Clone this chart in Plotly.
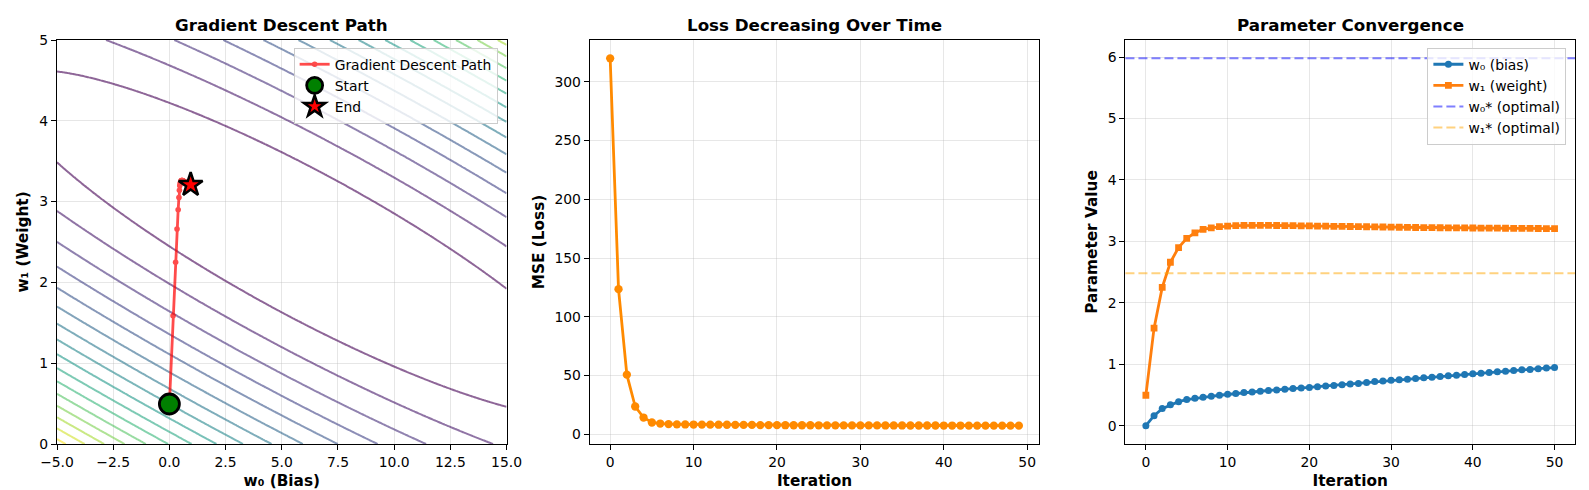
import numpy as np
import plotly.graph_objects as go

# ---------------- data ----------------
ITER_PARAMS = list(range(51))
W0_HIST = [0.0, 0.163, 0.277, 0.34, 0.39, 0.425, 0.446, 0.462, 0.478, 0.495,
           0.51, 0.525, 0.538, 0.549, 0.56, 0.572, 0.58, 0.592, 0.603, 0.614,
           0.622, 0.634, 0.645, 0.654, 0.664, 0.677, 0.687, 0.704, 0.718, 0.726,
           0.738, 0.749, 0.757, 0.768, 0.78, 0.788, 0.802, 0.813, 0.821, 0.832,
           0.843, 0.851, 0.867, 0.877, 0.884, 0.897, 0.909, 0.916, 0.928, 0.938,
           0.946]
W1_HIST = [0.495, 1.587, 2.25, 2.66, 2.90, 3.05, 3.14, 3.195, 3.22, 3.24,
           3.248, 3.256, 3.26, 3.261, 3.261, 3.26, 3.259, 3.258, 3.256, 3.254,
           3.252, 3.25, 3.248, 3.246, 3.244, 3.242, 3.24, 3.238, 3.236, 3.234,
           3.232, 3.23, 3.228, 3.226, 3.225, 3.224, 3.222, 3.221, 3.22, 3.219,
           3.218, 3.217, 3.216, 3.215, 3.214, 3.213, 3.212, 3.211, 3.21, 3.209,
           3.208]

ITER_LOSS = list(range(50))
LOSS_HIST = [320.0, 123.5, 50.7, 23.6, 14.2, 10.0, 9.1, 8.6, 8.4, 8.3,
             8.25, 8.2, 8.15, 8.1, 8.05, 8.0, 7.95, 7.9, 7.8, 7.75,
             7.7, 7.68, 7.66, 7.64, 7.62, 7.6, 7.58, 7.56, 7.54, 7.52,
             7.5, 7.49, 7.48, 7.47, 7.46, 7.45, 7.44, 7.43, 7.42, 7.41,
             7.4, 7.39, 7.38, 7.37, 7.36, 7.35, 7.34, 7.33, 7.32, 7.31]

W0_OPT = 5.98
W1_OPT = 2.48

# quadratic MSE surface: L = L_MIN + d0^2 + 2*X_MEAN*d0*d1 + X_SQ_MEAN*d1^2
X_MEAN = 5.5
X_SQ_MEAN = 38.5
L_MIN = 2.0
CONTOUR_START = 40
CONTOUR_STEP = 40
CONTOUR_END = 660

W0_RANGE = [-5, 15]
W1_RANGE = [0, 5]

FONT = "DejaVu Sans"

# ---------------- loss surface ----------------
w0g = np.linspace(W0_RANGE[0], W0_RANGE[1], 241)
w1g = np.linspace(W1_RANGE[0], W1_RANGE[1], 201)
G0, G1 = np.meshgrid(w0g, w1g)
D0 = G0 - W0_OPT
D1 = G1 - W1_OPT
Z = L_MIN + D0 ** 2 + 2 * X_MEAN * D0 * D1 + X_SQ_MEAN * D1 ** 2


def pad_range(vals, frac=0.05):
    lo, hi = min(vals), max(vals)
    p = (hi - lo) * frac
    return [lo - p, hi + p]


fig = go.Figure()

# ---- panel 1 ----
fig.add_trace(go.Contour(
    x=w0g, y=w1g, z=Z,
    contours=dict(start=CONTOUR_START, end=CONTOUR_END, size=CONTOUR_STEP,
                  coloring="lines", showlabels=False),
    colorscale="Viridis", zauto=False, zmin=CONTOUR_START, zmax=CONTOUR_END,
    line=dict(width=2), opacity=0.6, showscale=False, showlegend=False,
    hoverinfo="skip", xaxis="x", yaxis="y"))

fig.add_trace(go.Scatter(
    x=W0_HIST, y=W1_HIST, mode="lines+markers", name="Gradient Descent Path",
    line=dict(color="red", width=2.8), marker=dict(color="red", size=5.6),
    opacity=0.7, xaxis="x", yaxis="y", legend="legend"))

fig.add_trace(go.Scatter(
    x=[W0_HIST[0]], y=[W1_HIST[0]], mode="markers", name="Start",
    marker=dict(color="green", size=20, line=dict(color="black", width=2.8)),
    xaxis="x", yaxis="y", legend="legend"))

fig.add_trace(go.Scatter(
    x=[W0_HIST[-1]], y=[W1_HIST[-1]], mode="markers", name="End",
    marker=dict(color="red", size=18, symbol="star",
                line=dict(color="black", width=2.5)),
    xaxis="x", yaxis="y", legend="legend"))

# ---- panel 2 ----
fig.add_trace(go.Scatter(
    x=ITER_LOSS, y=LOSS_HIST, mode="lines+markers", name="MSE",
    line=dict(color="#ff8a00", width=2.8), marker=dict(color="#ff8a00", size=8.3),
    showlegend=False, xaxis="x2", yaxis="y2"))

# ---- panel 3 ----
fig.add_trace(go.Scatter(
    x=ITER_PARAMS, y=W0_HIST, mode="lines+markers", name="w₀ (bias)",
    line=dict(color="#1f77b4", width=2.8), marker=dict(color="#1f77b4", size=7),
    xaxis="x3", yaxis="y3", legend="legend2"))
fig.add_trace(go.Scatter(
    x=ITER_PARAMS, y=W1_HIST, mode="lines+markers", name="w₁ (weight)",
    line=dict(color="#ff7f0e", width=2.8),
    marker=dict(color="#ff7f0e", size=6.8, symbol="square"),
    xaxis="x3", yaxis="y3", legend="legend2"))
fig.add_trace(go.Scatter(
    x=[None], y=[None], mode="lines", name="w₀* (optimal)",
    line=dict(color="rgba(0,0,255,0.5)", width=2, dash="9px,4px"),
    xaxis="x3", yaxis="y3", legend="legend2"))
fig.add_trace(go.Scatter(
    x=[None], y=[None], mode="lines", name="w₁* (optimal)",
    line=dict(color="rgba(255,165,0,0.5)", width=2, dash="9px,4px"),
    xaxis="x3", yaxis="y3", legend="legend2"))

fig.add_shape(type="line", xref="x3 domain", yref="y3", x0=0, x1=1,
              y0=W0_OPT, y1=W0_OPT,
              line=dict(color="rgba(0,0,255,0.5)", width=2, dash="9px,4px"))
fig.add_shape(type="line", xref="x3 domain", yref="y3", x0=0, x1=1,
              y0=W1_OPT, y1=W1_OPT,
              line=dict(color="rgba(255,165,0,0.5)", width=2, dash="9px,4px"))

# ---------------- layout ----------------
W, H = 1589, 490
ML, MR, MT, MB = 49, 7, 32, 54
PW = W - ML - MR
PH = H - MT - MB


def dom(a, b):
    return [(a - ML) / PW, (b - ML) / PW]


D1_ = dom(49, 503)
D2_ = dom(587, 1041)
D3_ = dom(1128, 1582)

tickfont = dict(family=FONT, size=13.9, color="black")
titlefont = dict(family=FONT, size=15.3, color="black", weight="bold")


def ax(**kw):
    base = dict(showline=True, linecolor="black", linewidth=1.1, mirror=True,
                ticks="outside", ticklen=5, tickwidth=1.1, tickcolor="black",
                showgrid=True, gridcolor="rgba(176,176,176,0.3)", gridwidth=1.1,
                zeroline=False, tickfont=tickfont)
    base.update(kw)
    return base


fig.update_layout(
    width=W, height=H,
    margin=dict(l=ML, r=MR, t=MT, b=MB),
    paper_bgcolor="white", plot_bgcolor="white",
    font=dict(family=FONT, size=13.9, color="black"),
    xaxis=ax(domain=D1_, range=W0_RANGE, tick0=-5, dtick=2.5, tickformat=".1f",
             anchor="y", title=dict(text="w₀ (Bias)", font=titlefont, standoff=6)),
    yaxis=ax(domain=[0, 1], range=W1_RANGE, dtick=1, anchor="x",
             title=dict(text="w₁ (Weight)", font=titlefont, standoff=6)),
    xaxis2=ax(domain=D2_, range=pad_range(ITER_LOSS), dtick=10, anchor="y2",
              title=dict(text="Iteration", font=titlefont, standoff=6)),
    yaxis2=ax(domain=[0, 1], range=pad_range(LOSS_HIST), dtick=50, anchor="x2",
              title=dict(text="MSE (Loss)", font=titlefont, standoff=6)),
    xaxis3=ax(domain=D3_, range=pad_range(ITER_PARAMS), dtick=10, anchor="y3",
              title=dict(text="Iteration", font=titlefont, standoff=6)),
    yaxis3=ax(domain=[0, 1],
              range=pad_range(W0_HIST + W1_HIST + [W0_OPT, W1_OPT]),
              dtick=1, anchor="x3",
              title=dict(text="Parameter Value", font=titlefont, standoff=6)),
    legend=dict(x=(494 - ML) / PW, y=(436 - 39.7) / PH, xanchor="right",
                yanchor="top", bgcolor="rgba(255,255,255,0.8)",
                bordercolor="#cccccc", borderwidth=1,
                font=dict(family=FONT, size=13.9, color="black")),
    legend2=dict(x=(1573.3 - ML) / PW, y=(436 - 39.7) / PH, xanchor="right",
                 yanchor="top", bgcolor="rgba(255,255,255,0.8)",
                 bordercolor="#cccccc", borderwidth=1,
                 font=dict(family=FONT, size=13.9, color="black")),
)

TITLES = ["Gradient Descent Path", "Loss Decreasing Over Time",
          "Parameter Convergence"]
for t, d in zip(TITLES, [D1_, D2_, D3_]):
    fig.add_annotation(text=t, x=(d[0] + d[1]) / 2, y=1, xref="paper",
                       yref="paper", xanchor="center", yanchor="bottom",
                       yshift=3, showarrow=False,
                       font=dict(family=FONT, size=16.7, color="black",
                                 weight="bold"))

fig.write_html("out.html")
